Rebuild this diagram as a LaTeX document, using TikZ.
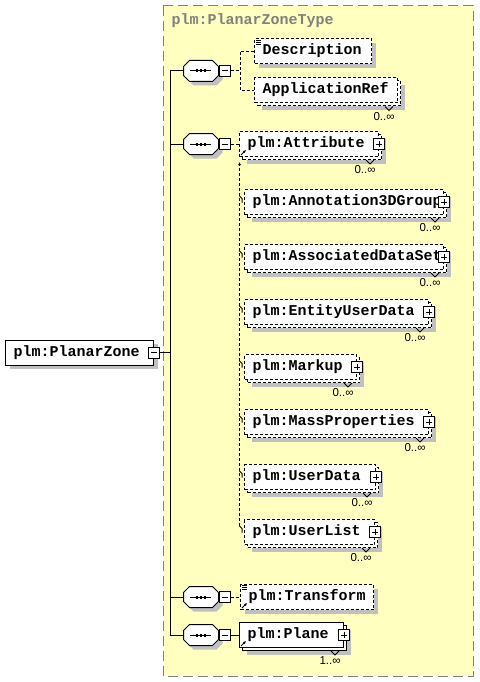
\documentclass[tikz,border=0pt]{standalone}
\usepackage{fontspec}
\usetikzlibrary{arrows.meta,shadows}
\newfontfamily\plmfont{Liberation Mono}
\newfontfamily\occfont{Liberation Sans}
\tikzset{>={Latex[length=3pt,width=3pt]}}
\definecolor{typeColour}{RGB}{255,255,192}
\definecolor{shadowColour}{RGB}{192,192,192}
\definecolor{frameColour}{RGB}{128,128,128}
\tikzset{
	elem/.style={draw, fill=white, anchor=west, minimum height=25, inner xsep=8, inner ysep=0,
		text height=9, text depth=2, align=left,
		font=\plmfont\bfseries\fontsize{15}{15}\selectfont},
	single/.style={drop shadow={shadow xshift=4pt, shadow yshift=-4pt, fill=shadowColour, opacity=1}},
	multi/.style={drop shadow={shadow xshift=7pt, shadow yshift=-7pt, fill=shadowColour, opacity=1},
		preaction={draw, fill=white, transform canvas={shift={(3pt,-3pt)}}}},
	optional/.style={dash pattern=on 3pt off 2pt},
	typetitle/.style={anchor=base west, inner sep=0, text=frameColour,
		font=\plmfont\bfseries\fontsize{15}{15}\selectfont},
	occ/.style={inner sep=0, font=\occfont\fontsize{11.5}{13}\selectfont},
	seq/.style={rectangle, minimum width=34, minimum height=20, inner sep=0},
	minusbox/.style={draw, fill=white, minimum size=11, inner sep=0,
		path picture={\draw ([xshift=2.5pt]path picture bounding box.west) -- ([xshift=-2.5pt]path picture bounding box.east);}},
	plusbox/.style={draw, fill=white, minimum size=11, inner sep=0,
		path picture={\draw ([xshift=2.5pt]path picture bounding box.west) -- ([xshift=-2.5pt]path picture bounding box.east);
			\draw ([yshift=-2.5pt]path picture bounding box.north) -- ([yshift=2.5pt]path picture bounding box.south);}}
}
% octagon round a sequence node
\newcommand{\octagon}[2]{%
	\draw[#2] ([xshift=6pt]#1.north west) -- ([xshift=-6pt]#1.north east)
		-- ([yshift=-6pt]#1.north east) -- ([yshift=6pt]#1.south east)
		-- ([xshift=-6pt]#1.south east) -- ([xshift=6pt]#1.south west)
		-- ([yshift=6pt]#1.south west) -- ([yshift=-6pt]#1.north west) -- cycle;}
\newcommand{\seqbox}[1]{%
	\octagon{#1}{draw=none, fill=shadowColour, transform canvas={shift={(4pt,-4pt)}}}
	\octagon{#1}{fill=white}
	\draw ([xshift=-11pt]#1.center) -- ([xshift=10pt]#1.center);
	\foreach \dx in {-4,0,4}
		\fill ([xshift=\dx pt-1.3pt, yshift=-1.5pt]#1.center) rectangle ([xshift=\dx pt+1.3pt, yshift=1.5pt]#1.center);}
% occurrence mark under a repeated element
\newcommand{\occurs}[2]{%
	\draw ([shift={(-13,3)}]#1.south east) -- ++(4,4) -- ++(4,-4);
	\node[occ] (#1-o) at ([shift={(-14,13)}]#1.south east) {#2};}
% documentation mark
\newcommand{\docicon}[1]{%
	\foreach \dy in {1.5,3.5,5.5}
		\draw[line width=0.8pt] ([shift={(2,\dy)}]#1.north west) -- ++(5,0);}
% reference mark
\newcommand{\reficon}[1]{%
	\draw[->] ([shift={(2,-2)}]#1.south west) -- ++(5,-5);}

\begin{document}
\begin{tikzpicture}[x=1pt, y=-1pt, line width=1pt]
	\useasboundingbox (0,0) rectangle (479,682);

	% the complex type area
	\draw[frameColour, fill=typeColour, dash pattern=on 10pt off 5pt] (163,6) rectangle (473,676);
	\node[typetitle] (typename) at (171,24.5) {plm:PlanarZoneType};

	% the global element
	\node[elem, single, text width=132] (zone) at (5,352.5) {plm:PlanarZone};
	\node[minusbox] (zone-m) at (zone.east) {};

	% the sequences
	\node[seq] (seq1) at (201,71) {};
	\node[seq] (seq2) at (201,144) {};
	\node[seq] (seq3) at (201,597) {};
	\node[seq] (seq4) at (201,635) {};
	\foreach \s in {seq1,seq2,seq3,seq4}{
		\seqbox{\s}
		\node[minusbox, anchor=west] (\s-m) at (\s.east) {};
	}

	% trunk
	\coordinate (trunk-top) at (170,71);
	\coordinate (trunk-bot) at (170,635);
	\draw (zone-m.east) -- (zone-m.east -| trunk-top);
	\draw (trunk-top) -- (trunk-bot);
	\foreach \s in {seq1,seq2,seq3,seq4}
		\draw (\s.west -| trunk-top) -- (\s.west);

	% first sequence
	\node[elem, single, optional, text width=101] (desc) at (254,51.5) {Description};
	\node[elem, multi, optional, text width=127] (appref) at (254,90.5) {ApplicationRef};
	\docicon{desc}
	\occurs{appref}{0..∞}
	\coordinate (br1) at (240,71);
	\draw[optional] (seq1-m.east) -- (br1);
	\draw[optional] (desc.west) -| (br1) |- (appref.west);

	% second sequence, head of the substitution group
	\node[elem, multi, optional, text width=123] (attr) at (239,144) {plm:Attribute};
	\node[plusbox] (attr-p) at (attr.east) {};
	\reficon{attr}
	\occurs{attr}{0..∞}
	\draw[optional] (seq2-m.east) -- (attr.west);

	% substitution group members
	\foreach \nm/\lbl/\w [count=\i] in {anno/plm:Annotation3DGroup/183, assoc/plm:AssociatedDataSet/183,
			entity/plm:EntityUserData/168, markup/plm:Markup/96, mass/plm:MassProperties/168,
			udata/plm:UserData/115, ulist/plm:UserList/114}
	{
		\node[elem, multi, optional, text width=\w] (\nm) at (244,147+55*\i) {\lbl};
		\node[plusbox] (\nm-p) at (\nm.east) {};
		\occurs{\nm}{0..∞}
		\draw ([shift={(-4.5,-6)}]\nm.west) -- ++(2.5,2.5) -- ++(0,4);
	}
	\coordinate (subst-end) at (239.5,526);
	\draw[optional, ->] (subst-end) -- ([shift={(0.5,5)}]attr.south west);

	% third sequence
	\node[elem, single, optional, text width=117] (transform) at (240,597) {plm:Transform};
	\docicon{transform}
	\reficon{transform}
	\draw[optional] (seq3-m.east) -- (transform.west);

	% fourth sequence
	\node[elem, multi, text width=88] (plane) at (239,635) {plm:Plane};
	\node[plusbox] (plane-p) at (plane.east) {};
	\reficon{plane}
	\occurs{plane}{1..∞}
	\draw (seq4-m.east) -- (plane.west);
\end{tikzpicture}
\end{document}
